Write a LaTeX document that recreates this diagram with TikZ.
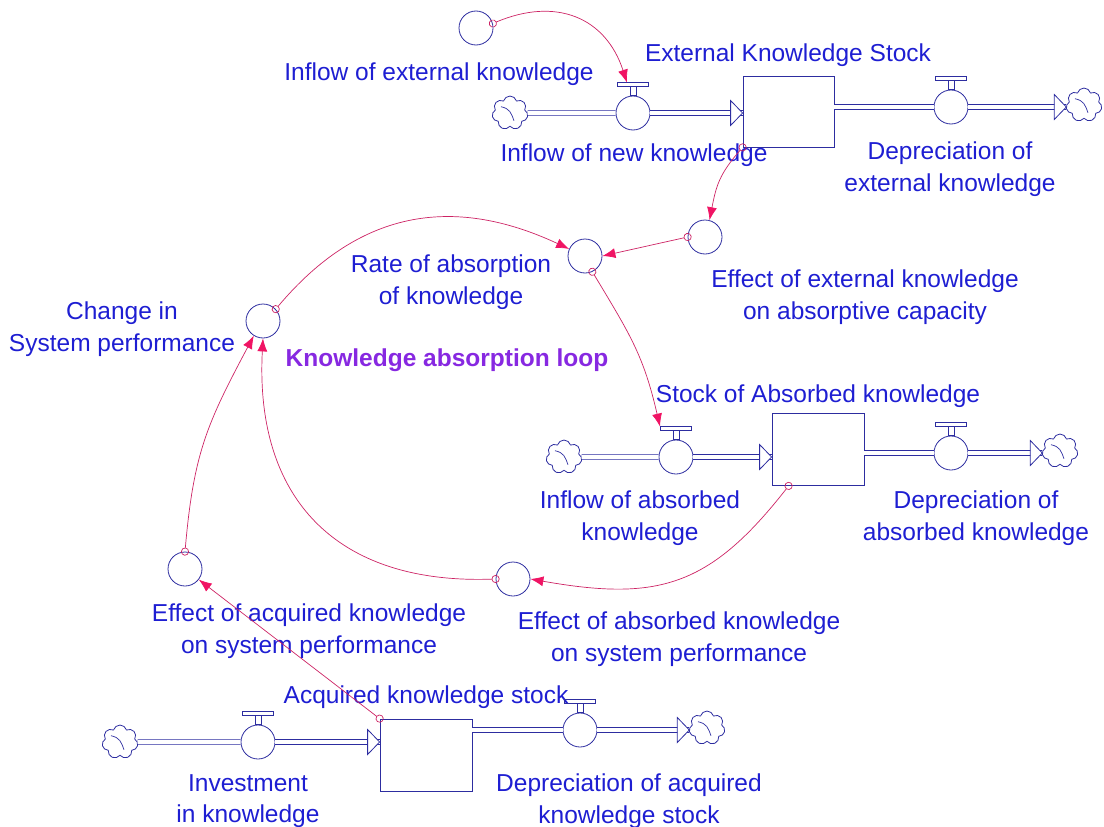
\documentclass[tikz,border=0pt]{standalone}
\usepackage{fontspec}
\setmainfont{Liberation Sans}
\usetikzlibrary{arrows.meta,shapes.symbols,positioning}
\definecolor{txtblue}{RGB}{30,30,210}
\definecolor{shapeblue}{RGB}{45,45,160}
\definecolor{linkred}{RGB}{205,35,100}
\definecolor{headpink}{RGB}{240,20,100}
\definecolor{loopviolet}{RGB}{135,40,225}

\begin{document}
\begin{tikzpicture}[
                            x=1pt, y=1pt,
                            >={Latex[length=13pt,width=10pt,color=headpink]},
                            every node/.style={font=\fontsize{24.5}{31.5}\selectfont, text=txtblue},
                            stockline/.style={draw=shapeblue, line width=0.8pt},
                            stockbox/.style={rectangle, stockline, minimum width=92pt, minimum height=72pt, inner sep=0pt},
                            valve/.style={circle, stockline, fill=white, minimum size=34pt, inner sep=0pt},
                            aux/.style={circle, stockline, minimum size=34pt, inner sep=0pt},
                            cloudnode/.style={cloud, cloud puffs=7, aspect=1, stockline, minimum width=36pt, minimum height=34pt, inner sep=0pt,
                                path picture={\draw [stockline, line width=0.7pt] ([shift={(-9pt,6pt)}]path picture bounding box.center)
                                    .. controls +(9pt,-2pt) and +(-3pt,8pt) .. ([shift={(4pt,-8pt)}]path picture bounding box.center);}},
                            lbl/.style={align=center, inner sep=0pt},
                            pipe/.style={draw=shapeblue, double=white, double distance=3.6pt, line width=0.8pt},
                            link/.style={draw=linkred, line width=0.7pt, {Circle[open,length=8pt,width=8pt]}->, shorten <=-4pt}
                        ]
                        \useasboundingbox (0,0) rectangle (1104,-827);

                        % Stocks and flows
                        \node [cloudnode] (srcExt) at (510,-113) {};
                        \node [valve] (newIn) at (633,-113) {};
                        \node [stockbox, minimum width=91pt, minimum height=71pt] (extStock) at (788.5,-111.5) {};
                        \node [valve] (extDep) at (951,-107) {};
                        \node [cloudnode] (sinkExt) at (1084,-105) {};

                        \node [cloudnode] (srcAbs) at (564,-457) {};
                        \node [valve] (absIn) at (676,-457) {};
                        \node [stockbox] (absStock) at (818,-449.5) {};
                        \node [valve] (absDep) at (951,-453) {};
                        \node [cloudnode] (sinkAbs) at (1060,-451) {};

                        \node [cloudnode] (srcAcq) at (120,-742) {};
                        \node [valve] (invest) at (258,-742) {};
                        \node [stockbox] (acqStock) at (426,-755) {};
                        \node [valve] (acqDep) at (580,-730) {};
                        \node [cloudnode] (sinkAcq) at (707,-728) {};

                        % Auxiliaries
                        \node [aux] (extIn) at (476,-28) {};
                        \node [aux] (effExt) at (705,-237) {};
                        \node [aux] (rate) at (585,-256) {};
                        \node [aux] (change) at (263,-321) {};
                        \node [aux] (effAbs) at (513,-579) {};
                        \node [aux] (effAcq) at (185,-569) {};

                        % Labels
                        \node [lbl] (extInLbl) at (439,-74) {Inflow of external knowledge};
                        \node [lbl] (extStockLbl) at (788,-55) {External Knowledge Stock};
                        \node [lbl] (newInLbl) at (634,-155) {Inflow of new knowledge};
                        \node [lbl] (extDepLbl) at (950,-169) {Depreciation of\\external knowledge};
                        \node [lbl] (rateLbl) at (451,-282) {Rate of absorption\\of knowledge};
                        \node [lbl] (effExtLbl) at (865,-297) {Effect of external knowledge\\on absorptive capacity};
                        \node [lbl] (changeLbl) at (122,-329) {Change in\\System performance};
                        \node [lbl, text=loopviolet, font=\fontsize{24.5}{31.5}\selectfont\bfseries] (loopLbl) at (447,-360) {Knowledge absorption loop};
                        \node [lbl] (absStockLbl) at (818,-396) {Stock of Absorbed knowledge};
                        \node [lbl] (absInLbl) at (640,-518) {Inflow of absorbed\\knowledge};
                        \node [lbl] (absDepLbl) at (976,-518) {Depreciation of\\absorbed knowledge};
                        \node [lbl] (effAcqLbl) at (309,-631) {Effect of acquired knowledge\\on system performance};
                        \node [lbl] (effAbsLbl) at (679,-639) {Effect of absorbed knowledge\\on system performance};
                        \node [lbl] (acqStockLbl) at (426,-697) {Acquired knowledge stock};
                        \node [lbl] (investLbl) at (248,-801) {Investment\\in knowledge};
                        \node [lbl] (acqDepLbl) at (629,-801) {Depreciation of acquired\\knowledge stock};

                        % Valve handles
                        \foreach \v in {newIn,extDep,absIn,absDep,invest,acqDep}{
                            \draw [stockline] ([xshift=-3pt]\v.north) rectangle ([xshift=3pt,yshift=9pt]\v.north);
                            \draw [stockline] ([xshift=-15.5pt,yshift=9pt]\v.north) rectangle ([xshift=15.5pt,yshift=13pt]\v.north);
                            \coordinate (\v-t) at ([yshift=13pt]\v.north);
                        }

                        % Pipes
                        \coordinate (newIn-end) at (newIn -| extStock.west);
                        \coordinate (absIn-end) at (absIn -| absStock.west);
                        \coordinate (invest-end) at (invest -| acqStock.west);
                        \draw [pipe] (srcExt) -- (newIn);
                        \draw [pipe] (newIn) -- (newIn-end);
                        \draw [pipe] (extStock.east |- extDep) -- (extDep);
                        \draw [pipe] (extDep) -- (extDep -| sinkExt.west);
                        \draw [pipe] (srcAbs) -- (absIn);
                        \draw [pipe] (absIn) -- (absIn-end);
                        \draw [pipe] (absStock.east |- absDep) -- (absDep);
                        \draw [pipe] (absDep) -- (absDep -| sinkAbs.west);
                        \draw [pipe] (srcAcq) -- (invest);
                        \draw [pipe] (invest) -- (invest-end);
                        \draw [pipe] (acqStock.east |- acqDep) -- (acqDep);
                        \draw [pipe] (acqDep) -- (acqDep -| sinkAcq.west);
                        \coordinate (extDep-end) at (extDep -| sinkExt.west);
                        \coordinate (absDep-end) at (absDep -| sinkAbs.west);
                        \coordinate (acqDep-end) at (acqDep -| sinkAcq.west);
                        \foreach \p in {newIn-end,extDep-end,absIn-end,absDep-end,invest-end,acqDep-end}
                            \draw [stockline, fill=white] (\p) -- ++(-12,12.5) -- ++(0,-25) -- cycle;

                        % Connections
                        \draw [link] (extIn.15) to[out=23, in=108, looseness=1.2] ([xshift=-6pt]newIn-t);
                        \draw [link] (extStock.south west) to[out=229, in=79, looseness=1.13] (effExt.75);
                        \draw [link] (effExt.west) -- (rate.east);
                        \draw [link] (change.43) to[out=50, in=155, looseness=1.1] (rate.156);
                        \draw [link] (rate.-65) to[out=-59, in=103, looseness=1.11] ([xshift=-16pt]absIn-t);
                        \draw [link] ([xshift=17pt]absStock.south west) to[out=232, in=-10, looseness=1.2] (effAbs.east);
                        \draw [link] (effAbs.west) to[out=182, in=-93, looseness=1.22] (change.south);
                        \draw [link] (effAcq.north) to[out=85, in=242, looseness=1.12] (change.238);
                        \draw [link] (acqStock.north west) -- (effAcq);
                    \end{tikzpicture}
\end{document}
